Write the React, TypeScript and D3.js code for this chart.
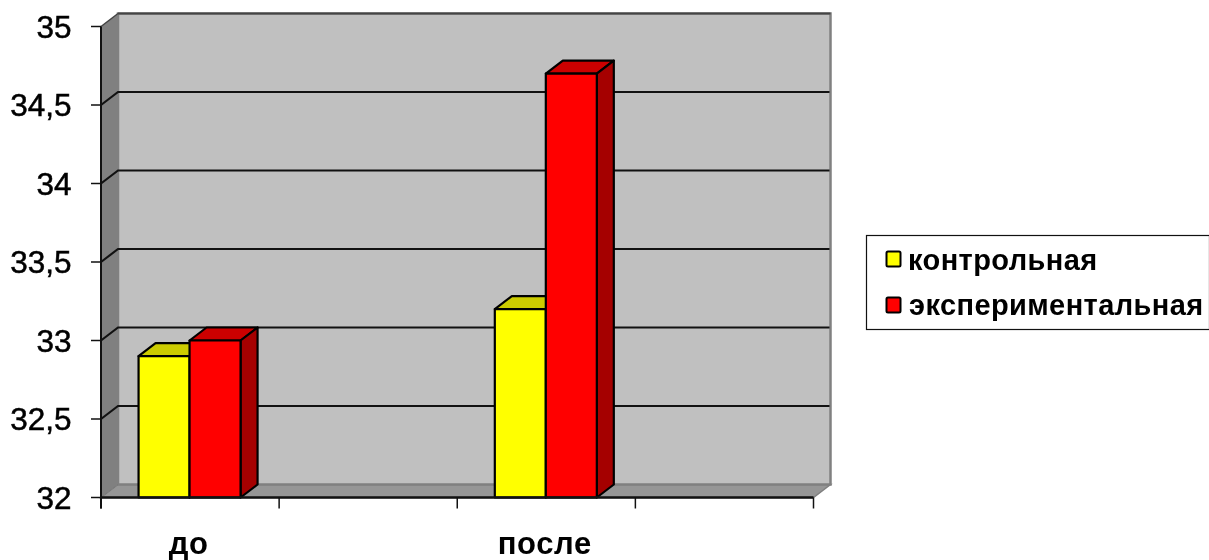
import React, { useEffect, useRef } from 'react'
import * as d3 from 'd3'

const categories = ['до', '', 'после', '']
const seriesNames = ['контрольная', 'экспериментальная']
const control = [32.9, null, 33.2, null]
const experimental = [33, null, 34.7, null]
const yTicks = [32, 32.5, 33, 33.5, 34, 34.5, 35]
const colors = ['#ffff00', '#ff0000']
const tops = ['#cccc00', '#cc0000']
const sides = ['#999900', '#a50000']

const FONT = '"Liberation Sans", Arial, sans-serif'

export default function App() {
  const svgRef = useRef<SVGSVGElement>(null)

  useEffect(() => {
    const width = 1209, height = 560
    const m = { left: 101, right: 813.5, top: 26.5, bottom: 497.5 }
    const dx = 17, dy = -13 // depth of the 3d box
    const svg = d3.select(svgRef.current)
      .attr('viewBox', `0 0 ${width} ${height}`)
      .attr('width', width)
      .attr('height', height)
    svg.selectAll('*').remove()

    const x = d3.scaleBand().domain(categories.map((c, i) => i + c)).range([m.left, m.right])
    const y = d3.scaleLinear().domain([32, 35]).range([m.bottom, m.top])
    const pts = (p: number[][]) => p.map(d => d.join(',')).join(' ')

    // walls
    svg.append('polygon')
      .attr('points', pts([[m.left, m.top], [m.left + dx, m.top + dy], [m.left + dx, m.bottom + dy], [m.left, m.bottom]]))
      .attr('fill', '#808080')
    svg.append('polygon')
      .attr('points', pts([[m.left, m.bottom], [m.left + dx, m.bottom + dy], [m.right + dx, m.bottom + dy], [m.right, m.bottom]]))
      .attr('fill', '#969696')
      .attr('stroke', '#808080').attr('stroke-width', 1.5)
    svg.append('rect')
      .attr('x', m.left + dx).attr('y', m.top + dy)
      .attr('width', m.right - m.left).attr('height', m.bottom - m.top)
      .attr('fill', '#c0c0c0')
      .attr('stroke', '#808080').attr('stroke-width', 2.5)
    svg.append('line')
      .attr('x1', m.left + dx).attr('x2', m.right + dx)
      .attr('y1', m.top + dy).attr('y2', m.top + dy)
      .attr('stroke', '#444').attr('stroke-width', 2.2)
    svg.append('line')
      .attr('x1', m.left).attr('x2', m.left + dx)
      .attr('y1', m.top).attr('y2', m.top + dy)
      .attr('stroke', '#444').attr('stroke-width', 1.5)

    // gridlines with the bend on the side wall
    svg.append('g').selectAll('polyline')
      .data(yTicks.filter(d => d !== 35))
      .join('polyline')
      .attr('points', d => d === 32
        ? pts([[m.left, y(d)], [m.left + dx, y(d) + dy]])
        : pts([[m.left, y(d)], [m.left + dx, y(d) + dy], [m.right + dx - 1, y(d) + dy]]))
      .attr('fill', 'none')
      .attr('stroke', d => d === 32 ? '#777' : '#111')
      .attr('stroke-width', d => d === 32 ? 1 : 2.2)
      .attr('stroke-dasharray', d => d === 32 ? '3 2' : null)

    // bars, drawn left to right so the neighbour covers the side face
    const barW = 51
    const series = [control, experimental]
    series.forEach((vals, s) => {
      const g = svg.append('g')
      vals.forEach((v, i) => {
        if (v == null) return
        const cx = x(i + categories[i])! + x.bandwidth() / 2
        const x0 = cx - barW + s * barW - 0.5, x1 = x0 + barW
        const y0 = y(v), yb = y(32)
        const add = (p: number[][], fill: string) => {
          g.append('polygon').attr('points', pts(p)).attr('fill', fill)
            .attr('stroke', '#000').attr('stroke-width', 2.2).attr('stroke-linejoin', 'round')
        }
        add([[x0, y0], [x0 + dx, y0 + dy], [x1 + dx, y0 + dy], [x1, y0]], tops[s])
        add([[x1, y0], [x1 + dx, y0 + dy], [x1 + dx, yb + dy], [x1, yb]], sides[s])
        add([[x0, y0], [x1, y0], [x1, yb], [x0, yb]], colors[s])
      })
    })

    // axes
    const axes = svg.append('g').attr('stroke', '#111')
    axes.append('line')
      .attr('x1', m.left).attr('x2', m.left).attr('y1', m.top).attr('y2', m.bottom + 11)
      .attr('stroke-width', 2)
    axes.append('line')
      .attr('x1', m.left).attr('x2', m.right).attr('y1', m.bottom).attr('y2', m.bottom)
      .attr('stroke-width', 2.5)
    axes.selectAll('line.ty')
      .data(yTicks)
      .join('line')
      .attr('class', 'ty')
      .attr('x1', m.left - 10).attr('x2', m.left).attr('y1', d => y(d)).attr('y2', d => y(d))
      .attr('stroke-width', 1.5)
    axes.selectAll('line.tx')
      .data(x.domain().concat('end'))
      .join('line')
      .attr('class', 'tx')
      .attr('x1', d => d === 'end' ? m.right : x(d)!)
      .attr('x2', d => d === 'end' ? m.right : x(d)!)
      .attr('y1', m.bottom).attr('y2', m.bottom + 11)
      .attr('stroke-width', 1.5)

    svg.append('g').selectAll('text')
      .data(yTicks)
      .join('text')
      .attr('x', 71.5)
      .attr('y', d => y(d) + 11)
      .attr('text-anchor', 'end')
      .attr('font-family', FONT)
      .attr('font-size', 31.5)
      .attr('fill', '#000')
      .attr('stroke', '#000')
      .attr('stroke-width', 0.5)
      .text(d => String(d).replace('.', ','))

    svg.append('g').selectAll('text')
      .data(categories.map((c, i) => ({ c, i })).filter(d => d.c))
      .join('text')
      .attr('x', d => x(d.i + d.c)! + x.bandwidth() / 2 - 1.5)
      .attr('y', 554)
      .attr('text-anchor', 'middle')
      .attr('font-family', FONT)
      .attr('font-weight', 'bold')
      .attr('font-size', 31)
      .attr('letter-spacing', 0.6)
      .attr('fill', '#000')
      .text(d => d.c)

    // legend
    svg.append('rect')
      .attr('x', 866.5).attr('y', 235.5).attr('width', 343).attr('height', 94)
      .attr('fill', '#fff').attr('stroke', '#111').attr('stroke-width', 1.2)
    const leg = svg.append('g').selectAll('g')
      .data(seriesNames)
      .join('g')
      .attr('transform', (d, i) => `translate(0,${i === 0 ? 259 : 305})`)
    leg.append('rect')
      .attr('x', 886.5).attr('y', -7.5).attr('width', 14).attr('height', 15).attr('rx', 1.5)
      .attr('fill', (d, i) => colors[i])
      .attr('stroke', '#000').attr('stroke-width', 2)
    leg.append('text')
      .attr('x', (d, i) => i === 0 ? 908 : 909)
      .attr('y', (d, i) => i === 0 ? 11 : 10)
      .attr('font-family', FONT)
      .attr('font-weight', 'bold')
      .attr('font-size', 29)
      .attr('letter-spacing', 0.4)
      .attr('fill', '#000')
      .text(d => d)
  }, [])

  return <svg ref={svgRef} style={{ position: 'absolute', left: 0, top: 0, display: 'block', filter: 'blur(0.5px)' }} />
}
